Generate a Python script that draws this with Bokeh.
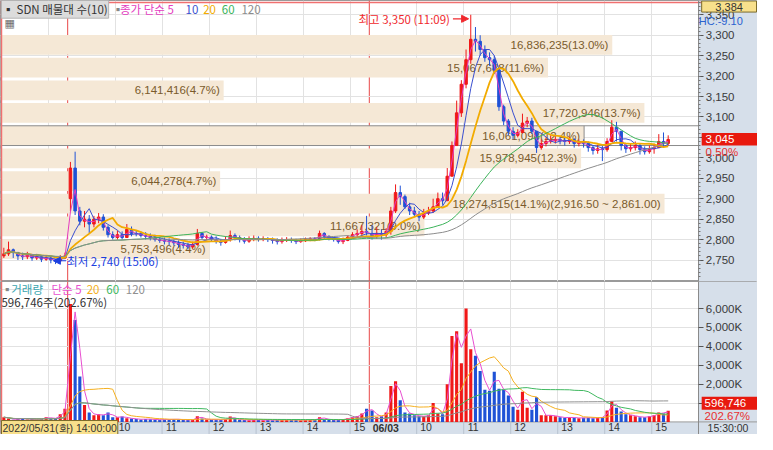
import numpy as np
import pandas as pd
from bokeh.plotting import figure
from bokeh.layouts import column
from bokeh.models import (Range1d, FixedTicker, NumeralTickFormatter, Label, Span,
                          Grid, Arrow, NormalHead, BoxAnnotation)
from bokeh.core.properties import value
from bokeh.embed import file_html
from bokeh.resources import INLINE

# ---------------- data (6-minute bars) ----------------
sessions = ["2022/05/31", "2022/06/02", "2022/06/03"]
day_open = [2760, 2900, 2815]

close_0531 = [2765, 2775, 2768, 2760, 2758, 2762, 2755, 2758, 2752, 2755, 2750, 2748, 2755, 2760]
high_0531 = [2780, 2795, 2778, 2770, 2768, 2770, 2765, 2765, 2762, 2762, 2758, 2752, 2762, 2768]
low_0531 = [2755, 2760, 2755, 2750, 2750, 2752, 2748, 2750, 2745, 2748, 2742, 2740, 2745, 2752]
vol_0531 = [250, 180, 120, 150, 200, 130, 150, 120, 160, 250, 180, 200, 400, 700]

close_0602 = [2975, 2870, 2845, 2850, 2838, 2850, 2855, 2830, 2812, 2805,
              2812, 2805, 2825, 2815, 2814, 2810, 2808, 2804, 2800, 2798,
              2796, 2795, 2792, 2788, 2786, 2782, 2788, 2815, 2805, 2806,
              2800, 2796, 2793, 2800, 2810, 2805, 2800, 2796, 2802, 2803,
              2800, 2802, 2800, 2798, 2795, 2798, 2800, 2798, 2795, 2797,
              2800, 2802, 2800, 2815, 2808, 2803, 2800, 2795, 2798, 2806,
              2812, 2815, 2820, 2818]
high_0602 = [2990, 3015, 2880, 2870, 2860, 2858, 2865, 2862, 2835, 2820,
             2822, 2820, 2838, 2832, 2822, 2820, 2818, 2815, 2812, 2806,
             2805, 2803, 2800, 2798, 2795, 2792, 2795, 2826, 2818, 2812,
             2810, 2808, 2802, 2808, 2822, 2815, 2810, 2806, 2808, 2810,
             2808, 2808, 2806, 2805, 2803, 2805, 2806, 2805, 2802, 2803,
             2805, 2806, 2806, 2822, 2818, 2810, 2806, 2803, 2805, 2810,
             2818, 2825, 2835, 2858]
low_0602 = [2870, 2860, 2835, 2830, 2815, 2830, 2840, 2822, 2805, 2800,
            2800, 2800, 2805, 2808, 2808, 2805, 2800, 2798, 2795, 2792,
            2788, 2786, 2785, 2780, 2778, 2776, 2778, 2785, 2800, 2798,
            2795, 2790, 2785, 2790, 2795, 2798, 2793, 2790, 2792, 2796,
            2795, 2796, 2794, 2790, 2788, 2790, 2794, 2792, 2789, 2792,
            2794, 2796, 2796, 2798, 2800, 2798, 2795, 2790, 2789, 2796,
            2802, 2806, 2808, 2810]
vol_0602 = [6250, 5400, 2400, 900, 500, 350, 400, 350, 500, 250,
            250, 280, 200, 180, 150, 130, 160, 140, 120, 110,
            130, 120, 150, 130, 110, 100, 120, 300, 180, 130,
            110, 120, 100, 140, 280, 150, 110, 100, 90, 110,
            100, 90, 100, 90, 110, 100, 120, 100, 110, 90,
            100, 120, 100, 250, 160, 120, 100, 110, 130, 200,
            250, 300, 450, 700]

close_0603 = [2808, 2815, 2812, 2820, 2870, 2915, 2905, 2880, 2870, 2862,
              2855, 2865, 2870, 2880, 2900, 2895, 2955, 3030, 3110, 3180,
              3240, 3290, 3285, 3265, 3245, 3240, 3215, 3125, 3090, 3065,
              3055, 3062, 3085, 3090, 3065, 3025, 3035, 3040, 3042, 3045,
              3042, 3040, 3044, 3035, 3038, 3035, 3025, 3018, 3022, 3020,
              3040, 3075, 3065, 3030, 3022, 3025, 3030, 3020, 3015, 3022,
              3025, 3040, 3035, 3045]
high_0603 = [2835, 2830, 2825, 2828, 2880, 2935, 2932, 2910, 2890, 2880,
             2870, 2875, 2880, 2900, 2915, 2915, 2975, 3040, 3140, 3190,
             3265, 3350, 3320, 3300, 3275, 3258, 3250, 3200, 3130, 3095,
             3075, 3070, 3108, 3100, 3098, 3065, 3045, 3050, 3055, 3055,
             3052, 3050, 3052, 3048, 3045, 3045, 3040, 3030, 3032, 3030,
             3048, 3092, 3088, 3060, 3035, 3035, 3040, 3035, 3028, 3030,
             3035, 3058, 3062, 3055]
low_0603 = [2800, 2802, 2800, 2805, 2812, 2865, 2885, 2875, 2860, 2855,
            2845, 2850, 2860, 2865, 2878, 2885, 2895, 2955, 3030, 3100,
            3170, 3230, 3260, 3250, 3235, 3225, 3205, 3115, 3080, 3055,
            3045, 3050, 3060, 3075, 3058, 3012, 3020, 3028, 3035, 3035,
            3033, 3030, 3034, 3025, 3028, 3025, 3015, 3008, 3010, 2992,
            3015, 3040, 3040, 3018, 3012, 3015, 3018, 3008, 3008, 3010,
            3010, 3025, 3025, 3030]
vol_0603 = [600, 250, 300, 500, 1900, 2150, 1150, 500, 450, 350,
            300, 300, 350, 1000, 450, 400, 2000, 4550, 4800, 3100,
            6000, 3850, 3500, 2700, 1700, 1650, 2650, 1750, 1700, 1400,
            800, 650, 1600, 750, 650, 1300, 350, 350, 350, 300,
            250, 220, 250, 220, 200, 220, 220, 200, 220, 250,
            600, 1100, 750, 550, 400, 350, 300, 250, 250, 300,
            350, 500, 450, 597]

# volume profile (SDN 매물대, 10 bins)
vp_vol = [5753496, 11667321, 18274515, 6044278, 15978945,
          16061098, 17720946, 6141416, 15067688, 16836235]
vp_pct = [4.4, 9.0, 14.1, 4.7, 12.3, 12.4, 13.7, 4.7, 11.6, 13.0]
vp_low = 2750.0
vp_step = 55.5
vp_current = 5          # bin holding the last price

price_ma_periods = [5, 10, 20, 60, 120]
vol_ma_periods = [5, 20, 60, 120]
last_price, last_chg = "3,045", "0.50%"
last_vol, last_vol_chg = "596,746", "202.67%"
cursor_price = "3,384"

# ---------------- geometry ----------------
DAY = 385     # 9:00-15:20 plus closing slot, in minutes
BAR = 6
base_min = 3  # bar length (minutes) of the original chart


def positions(day_index, n, first_minute):
    off = (day_index - 1) * DAY
    return [off + first_minute + BAR * k + BAR / 2 for k in range(n)]


u = np.array(positions(0, len(close_0531), 300) + positions(1, len(close_0602), 0) +
             positions(2, len(close_0603), 0))
close = np.array(close_0531 + close_0602 + close_0603, float)
high = np.array(high_0531 + high_0602 + high_0603, float)
low = np.array(low_0531 + low_0602 + low_0603, float)
vol = np.array(vol_0531 + vol_0602 + vol_0603, float)
opn = np.concatenate([[day_open[0]], close[:-1]])
opn[len(close_0531)] = day_open[1]
opn[len(close_0531) + len(close_0602)] = day_open[2]

UP, DOWN = "#f01818", "#1f52d6"
colors = [UP if c >= o else DOWN for o, c in zip(opn, close)]


# reference-pixel helpers for placing annotations
def X(px):
    return (px - 69) / 0.8


def Y1(py):
    return 3300 - (py - 36) * 50 / 21.2


def Y2(py):
    return (437 - py) / 19.5 * 1000


AXIS_BG = "#d6dfea"
GRID = "#e2e2e2"
FRAME_END = X(713)
x_range = Range1d(X(0), X(773))

p1 = figure(width=757, height=281, x_range=x_range, y_range=Range1d(Y1(291.5), Y1(0)),
            y_axis_location="right", x_axis_location=None, toolbar_location=None,
            output_backend="svg", min_border_left=0, min_border_right=0,
            min_border_top=0, min_border_bottom=0)
p2 = figure(width=757, height=153, x_range=x_range, y_range=Range1d(Y2(450), Y2(292)),
            y_axis_location="right", toolbar_location=None, output_backend="svg",
            min_border_left=0, min_border_right=0, min_border_top=0, min_border_bottom=0)

grid_u = [-DAY + 360] + [(h - 9) * 60 for h in range(10, 16)] + [DAY + (h - 9) * 60 for h in range(10, 16)]
for p in (p1, p2):
    p.border_fill_color = AXIS_BG
    p.background_fill_color = "white"
    p.outline_line_color = "#9a9a9a"
    p.xgrid.visible = False
    p.ygrid.visible = False
    p.add_layout(Grid(dimension=0, ticker=FixedTicker(ticks=grid_u), grid_line_color=GRID))
    for loc in (-0.5, DAY - 0.5):
        p.add_layout(Span(location=loc, dimension="height", line_color="#e84848",
                          line_width=1, level="underlay"))
    yax = p.yaxis[0]
    yax.fixed_location = FRAME_END
    yax.axis_line_color = "#8a8a8a"
    yax.major_tick_line_color = "#555555"
    yax.minor_tick_line_color = "#777777"
    yax.major_tick_out = 5
    yax.major_tick_in = 0
    yax.minor_tick_out = 2
    yax.minor_tick_in = 0
    yax.major_label_text_font = "Liberation Sans"
    yax.major_label_text_font_size = "11.5px"
    yax.major_label_text_color = "#3a3a3a"
    yax.major_label_standoff = 2

p1.add_layout(Grid(dimension=1, ticker=FixedTicker(ticks=list(range(2750, 3351, 50))),
                   grid_line_color=GRID))
p2.add_layout(Grid(dimension=1, ticker=FixedTicker(ticks=list(range(1000, 7001, 1000))),
                   grid_line_color=GRID))

p1.yaxis.ticker = FixedTicker(ticks=list(range(2750, 3351, 50)),
                              minor_ticks=list(range(2710, 3390, 10)))
p1.yaxis.formatter = NumeralTickFormatter(format="0,0")
vt = list(range(1000, 6001, 1000))
p2.yaxis.ticker = FixedTicker(ticks=vt)
p2.yaxis.major_label_overrides = {t: f"{t:,}K" for t in vt}

# axis backgrounds (inside the frame)
p1.quad(left=FRAME_END, right=x_range.end, bottom=p1.y_range.start, top=p1.y_range.end,
        fill_color=AXIS_BG, line_color=None)
p2.quad(left=FRAME_END, right=x_range.end, bottom=p2.y_range.start, top=p2.y_range.end,
        fill_color=AXIS_BG, line_color=None)
p2.quad(left=x_range.start, right=FRAME_END, bottom=p2.y_range.start, top=0,
        fill_color=AXIS_BG, line_color=None)
p2.segment(x0=[x_range.start], y0=[0], x1=[x_range.end], y1=[0], line_color="#9a9a9a")
# hour separators in the time strip
p2.segment(x0=grid_u, y0=[0] * len(grid_u), x1=grid_u, y1=[Y2(450)] * len(grid_u),
           line_color="#b8c2cf")

# x axis labels (placed just right of each hour line)
xt, xl = [], {}
for h in range(10, 16):
    for off in (0, DAY):
        pos = int(off + (h - 9) * 60 + 12)
        xt.append(pos)
        xl[pos] = str(h)
xax = p2.xaxis[0]
xax.fixed_location = 0
xax.ticker = FixedTicker(ticks=sorted(xt))
xax.major_label_overrides = xl
xax.major_tick_out = 0
xax.major_tick_in = 0
xax.axis_line_color = None
xax.major_label_standoff = 1
xax.major_label_text_font = "Liberation Sans"
xax.major_label_text_font_size = "10.5px"
xax.major_label_text_color = "#333333"

# ---------------- volume profile ----------------
span_u = FRAME_END - x_range.start
vmax = max(vp_vol)
centers = [vp_low + (k + 0.5) * vp_step - 1 for k in range(len(vp_vol))]
rights = [x_range.start + v / vmax * 0.951 * span_u for v in vp_vol]
p1.hbar(y=centers, left=x_range.start, right=rights, height=0.87 * vp_step,
        fill_color="#f5e8d6", line_color=None)
texts = []
for k, (v, pc) in enumerate(zip(vp_vol, vp_pct)):
    t = f"{v:,}({pc:.1f}%)"
    if v == vmax:
        lo_, hi_ = vp_low + k * vp_step, vp_low + (k + 1) * vp_step
        t += f"({hi_:,.2f} ~ {lo_:,.2f})"
    texts.append(t)
p1.text(x=[r - 5 for r in rights], y=centers, text=texts, text_align="right",
        text_baseline="middle", text_font=value("Liberation Sans"),
        text_font_size="11.5px", text_color="#7a5b2c")
half = 0.435 * vp_step
cy = centers[vp_current]
p1.segment(x0=[x_range.start, x_range.start, rights[vp_current]],
           y0=[cy - half, cy + half, cy - half],
           x1=[FRAME_END, FRAME_END, rights[vp_current]],
           y1=[cy - half, cy + half, cy + half], line_color="#8c8c8c")

# ---------------- candles ----------------
p1.segment(x0=u, y0=low, x1=u, y1=high, line_color=colors, line_width=1)
p1.vbar(x=u, width=3.2, top=np.maximum(opn, close), bottom=np.minimum(opn, close),
        fill_color=colors, line_color=colors)

ma_colors = ["#e43cbf", "#3a4fd0", "#f2ab00", "#3cb35a", "#8c8c8c"]
ma_widths = [1, 1, 1.8, 1, 1]
cs = pd.Series(close)
for per, col, w in zip(price_ma_periods, ma_colors, ma_widths):
    win = max(1, round(per * base_min / BAR))
    p1.line(u, cs.rolling(win, min_periods=1).mean().values, line_color=col, line_width=w)

# ---------------- volume ----------------
p2.vbar(x=u, width=4.0, top=vol, bottom=0, fill_color=colors, line_color=None)
vs = pd.Series(vol)
vma_colors = ["#e84fd0", "#f5b020", "#40b860", "#909090"]
for per, col in zip(vol_ma_periods, vma_colors):
    win = max(1, round(per * base_min / BAR))
    p2.line(u, vs.rolling(win, min_periods=1).mean().values, line_color=col, line_width=1)

# ---------------- crosshair ----------------
CROSS = "#f07070"
p1.add_layout(Span(location=-DAY + 300, dimension="height", line_color=CROSS, line_width=1.5))
p2.add_layout(Span(location=-DAY + 300, dimension="height", line_color=CROSS, line_width=1.5))
p1.segment(x0=[x_range.start], y0=[3380], x1=[FRAME_END + 4], y1=[3380],
           line_color=CROSS, line_width=1.5)


def lab(p, x, y, text, color="#333333", size="11.5px", font="Liberation Sans",
        align="left", bold=False, bg=None, border=None, pad=0):
    kw = dict(x=x, y=y, text=text, text_color=color, text_font_size=size, text_font=font,
              text_align=align, text_baseline="middle",
              text_font_style="bold" if bold else "normal")
    if bg:
        kw.update(background_fill_color=bg, background_fill_alpha=1.0)
    if border:
        kw.update(border_line_color=border)
    if pad:
        kw.update(padding=pad)
    p.add_layout(Label(**kw))


def box(p, l, r, b, t, fill, line=None):
    p.add_layout(BoxAnnotation(left=l, right=r, bottom=b, top=t, fill_color=fill,
                               fill_alpha=1.0, line_color=line, line_alpha=1.0 if line else 0))


KR = "Noto Sans CJK KR"
# price legend
lab(p1, X(1), Y1(9), "▪ SDN 매물대 수(10)", color="#333333", size="11.5px", font=KR,
    bg="#dcdcdc", border="#b4b4b4", pad=1)
lab(p1, X(114), Y1(9), "▪", color="#888888", size="11.5px", font=KR)
leg = [("종가 단순 5", 122, ma_colors[0]), ("10", 189, ma_colors[1]), ("20", 207, ma_colors[2]),
       ("60", 226, ma_colors[3]), ("120", 246, ma_colors[4])]
for t, px, col in leg:
    lab(p1, X(px), Y1(9), t, color=col, size="11.5px", font=KR)
lab(p1, X(4), Y1(24), "▦", color="#707070", size="11px", font="DejaVu Sans")

# high / low markers
RED, BLUE = "#f0282d", "#1c3fe0"
lab(p1, X(459), Y1(19), "최고 3,350 (11:09)", color=RED, size="11.5px", font=KR, align="right")
p1.add_layout(Arrow(end=NormalHead(size=7, fill_color=RED, line_color=RED),
                    x_start=X(462), y_start=Y1(19), x_end=X(478), y_end=Y1(19),
                    line_color=RED, line_width=1.2))
lab(p1, X(68), Y1(270), "최저 2,740 (15:06)", color=BLUE, size="11.5px", font=KR)
p1.add_layout(Arrow(end=NormalHead(size=7, fill_color=BLUE, line_color=BLUE),
                    x_start=X(67), y_start=Y1(270), x_end=X(54), y_end=Y1(270),
                    line_color=BLUE, line_width=1.2))

# right-side price labels
box(p1, X(716), X(772), Y1(12), Y1(0.5), "#f8e08c", "#7a6a2a")
lab(p1, X(744), Y1(6.5), cursor_price, color="#333333", size="11px", align="center")
lab(p1, X(713), Y1(21.5), "HC:-9.10", color="#2a62d0", size="11px")
box(p1, X(716), X(773), Y1(150.5), Y1(137.5), "#e8190e")
lab(p1, X(720), Y1(144), last_price, color="white", size="11.5px")
lab(p1, X(720), Y1(157), last_chg, color="#e83030", size="11.5px")

# volume legend
lab(p2, X(1), Y2(300), "▪", color="#888888", size="11.5px", font=KR)
vleg = [("거래량", 11, "#3aa6b0"), ("단순 5", 52, vma_colors[0]), ("20", 88, vma_colors[1]),
        ("60", 108, vma_colors[2]), ("120", 128, vma_colors[3])]
for t, px, col in vleg:
    lab(p2, X(px), Y2(300), t, color=col, size="11.5px", font=KR)
lab(p2, X(1), Y2(313), f"{last_vol}주({last_vol_chg})", color="#333333", size="11.5px", font=KR)
box(p2, X(716), X(773), Y2(424.5), Y2(411), "#e8190e")
lab(p2, X(719), Y2(417.5), last_vol, color="white", size="11.5px")
lab(p2, X(719), Y2(431), last_vol_chg, color="#e83030", size="11.5px")

# bottom strip labels
ys = Y2(442.8)
box(p2, X(380), X(408), Y2(449), Y2(438), AXIS_BG)
lab(p2, X(380), ys, "06/03", color="#333333", size="10.5px", bold=True)
lab(p2, X(722), ys, "15:30:00", color="#333333", size="10.5px")
lab(p2, X(1), ys, "2022/05/31(화) 14:00:00", color="#333333", size="10.5px",
    font="Liberation Sans", bg="#f8e08c", border="#7a6a2a", pad=1)

layout = column(p1, p2)
open("out.html", "w").write(file_html(layout, INLINE))
